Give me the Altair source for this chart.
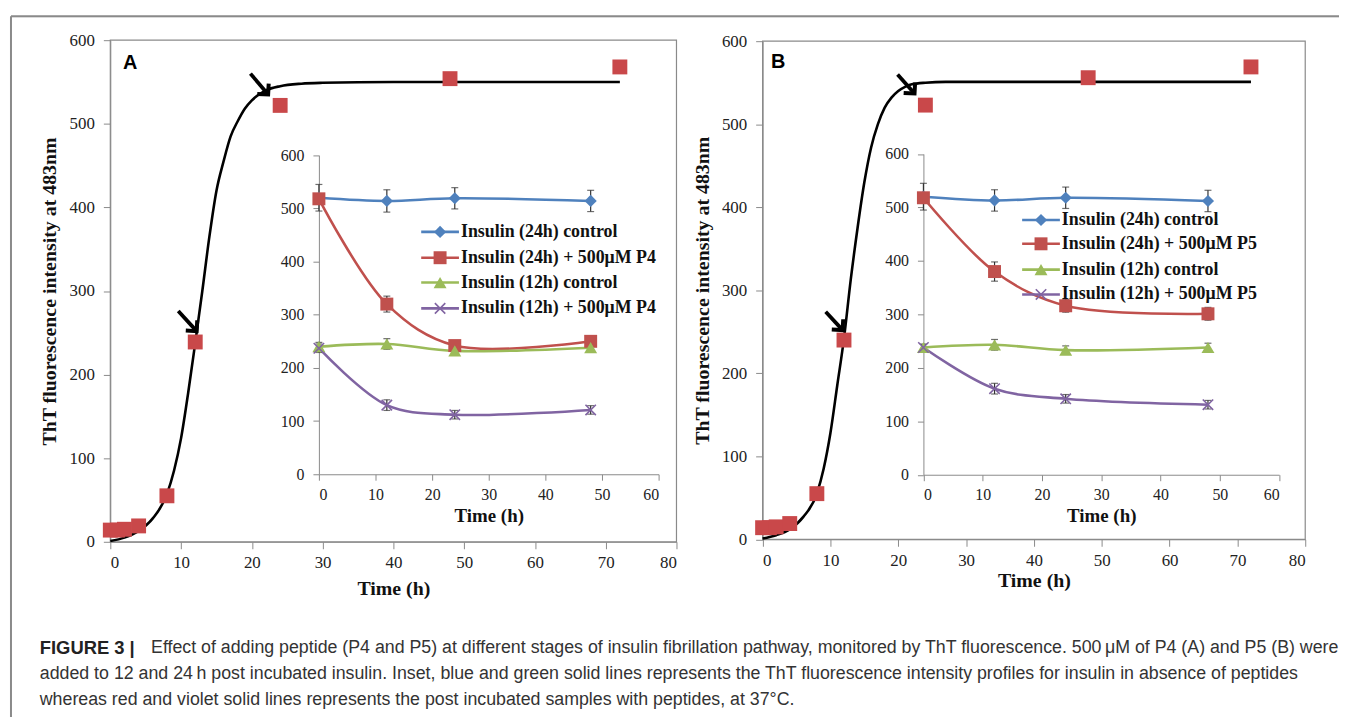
import altair as alt
import pandas as pd

# ---------------- data ----------------
# main panels: ThT kinetics (red squares) and fitted sigmoid
main_t = [0, 1, 2, 4, 8, 12, 24, 48, 72]
main_A = [14, 14, 15, 19, 55, 239, 522, 554, 568]
main_B = [14, 14, 15, 19, 55, 240, 523, 556, 569]

curve_t = [0, 2, 4, 6, 8, 9, 10, 11, 12, 13, 14, 15, 16, 17, 18, 19, 20, 21, 22, 24, 27, 30, 40, 72]
curve_A = [1, 5, 13, 28, 57, 85, 124, 178, 238, 300, 365, 420, 455, 485, 503, 518, 528, 535, 540, 545, 548, 549, 550, 550]
curve_B = [1, 5, 12, 27, 55, 85, 128, 185, 242, 313, 375, 430, 472, 500, 520, 532, 540, 545, 548, 550, 551, 551, 551, 551]

# arrows (tail -> tip), in data units of the main panels
arrow_A_tail_t = [9.6, 19.8]
arrow_A_tail_v = [276, 560]
arrow_A_tip_t = [12.2, 22.3]
arrow_A_tip_v = [252, 535]
arrow_B_tail_t = [9.3, 19.9]
arrow_B_tail_v = [274, 560]
arrow_B_tip_t = [11.8, 22.4]
arrow_B_tip_v = [252, 537]

# insets
inset_t = [0, 12, 24, 48]
labels_A = ["Insulin (24h) control", "Insulin (24h) + 500μM P4",
            "Insulin (12h) control", "Insulin (12h) + 500μM P4"]
labels_B = ["Insulin (24h) control", "Insulin (24h) + 500μM P5",
            "Insulin (12h) control", "Insulin (12h) + 500μM P5"]
vals_A = [[520, 514, 519, 514], [518, 320, 242, 250], [240, 245, 232, 238], [237, 130, 112, 121]]
errs_A = [[25, 21, 20, 20], [8, 15, 8, 8], [8, 10, 8, 8], [8, 10, 8, 8]]
vals_B = [[520, 513, 518, 512], [518, 380, 316, 301], [238, 243, 233, 238], [238, 161, 142, 131]]
errs_B = [[25, 20, 20, 20], [8, 18, 12, 12], [6, 10, 8, 8], [6, 10, 8, 8]]

series_colors = ["#4F81BD", "#C0504D", "#9BBB59", "#8064A2"]
caption_bold = "FIGURE 3 |"
caption_lines = [
    "Effect of adding peptide (P4 and P5) at different stages of insulin fibrillation pathway, monitored by ThT fluorescence. 500\u2009μM of P4 (A) and P5 (B) were",
    "added to 12 and 24\u2009h post incubated insulin. Inset, blue and green solid lines represents the ThT fluorescence intensity profiles for insulin in absence of peptides",
    "whereas red and violet solid lines represents the post incubated samples with peptides, at 37°C.",
]

# ---------------- styling ----------------
SERIF = "Liberation Serif"
W, H = 1337, 706
AX = dict(grid=False, labelFont=SERIF, labelColor="#222", domainColor="#8a8a8a",
          tickColor="#8a8a8a", titleFont=SERIF, titleFontWeight="bold", titleColor="#111")

marker_shapes = ["diamond", "square", "triangle-up", "M-1,-1L1,1M-1,1L1,-1"]
marker_filled = [True, True, True, False]
marker_sizes = [150, 170, 170, 110]


def main_panel(vals, curve, tail_t, tail_v, tip_t, tip_v, xr, yr, title_x, title_y, letter, letter_xy):
    xs = alt.Scale(domain=[0, 80], range=xr, nice=False, zero=False)
    ys = alt.Scale(domain=[0, 600], range=yr, nice=False, zero=False)
    xax = alt.Axis(orient="bottom", offset=yr[0] - H, values=list(range(0, 81, 10)),
                   title="Time (h)", titleFontSize=20, titleY=title_y, titleBaseline="middle",
                   labelFontSize=17, tickSize=7, labelPadding=6, **AX)
    yax = alt.Axis(orient="left", offset=-xr[0], values=list(range(0, 601, 100)),
                   title="ThT fluorescence intensity at 483nm", titleFontSize=20,
                   titleX=title_x, titleBaseline="middle", titleAngle=270,
                   labelFontSize=17, tickSize=7, labelPadding=9, **AX)
    frame = alt.Chart(pd.DataFrame({"x0": [0], "x1": [80], "y0": [0], "y1": [600]})).mark_rect(
        fillOpacity=0, stroke="#8a8a8a", strokeWidth=1.2).encode(
        x=alt.X("x0:Q", scale=xs, axis=xax), x2="x1:Q",
        y=alt.Y("y0:Q", scale=ys, axis=yax), y2="y1:Q")
    cdf = pd.DataFrame({"t": curve_t, "v": curve})
    line = alt.Chart(cdf).mark_line(color="black", strokeWidth=2.6, interpolate="monotone").encode(
        x=alt.X("t:Q", scale=xs, axis=xax), y=alt.Y("v:Q", scale=ys, axis=yax))
    sdf = pd.DataFrame({"t": main_t, "v": vals})
    sq = alt.Chart(sdf).mark_point(shape="square", filled=True, size=225, color="#C9484A", opacity=1).encode(
        x=alt.X("t:Q", scale=xs, axis=xax), y=alt.Y("v:Q", scale=ys, axis=yax))
    adf = pd.DataFrame({"t0": tail_t, "v0": tail_v, "t1": tip_t, "v1": tip_v})
    shaft = alt.Chart(adf).mark_rule(color="black", strokeWidth=3.8).encode(
        x=alt.X("t0:Q", scale=xs, axis=xax), x2="t1:Q",
        y=alt.Y("v0:Q", scale=ys, axis=yax), y2="v1:Q")
    head = alt.Chart(adf).mark_point(shape="M-1,-1L0,0L-1,1", filled=False, size=240, angle=48,
                                     color="black", strokeWidth=4, opacity=1, strokeJoin="miter").encode(
        x=alt.X("t1:Q", scale=xs, axis=xax), y=alt.Y("v1:Q", scale=ys, axis=yax))
    let = alt.Chart(pd.DataFrame({"s": [letter]})).mark_text(
        font="Liberation Sans", fontWeight="bold", fontSize=20, color="black").encode(
        x=alt.value(letter_xy[0]), y=alt.value(letter_xy[1]), text="s:N")
    return alt.layer(frame, line, sq, shaft, head, let)


def inset_panel(labels, vals, errs, xr, yr, title_y, leg_x, leg_rows):
    rows = []
    for name, vs, es in zip(labels, vals, errs):
        for t, v, e in zip(inset_t, vs, es):
            rows.append({"series": name, "t": t, "v": v, "lo": v - e, "hi": v + e})
    df = pd.DataFrame(rows)
    xs = alt.Scale(domain=[0, 60], range=xr, nice=False, zero=False)
    ys = alt.Scale(domain=[0, 600], range=yr, nice=False, zero=False)
    xax = alt.Axis(orient="bottom", offset=yr[0] - H, values=list(range(0, 61, 10)),
                   title="Time (h)", titleFontSize=19, titleY=title_y, titleBaseline="middle",
                   labelFontSize=16, tickSize=6, labelPadding=6, **AX)
    yax = alt.Axis(orient="left", offset=-xr[0], values=list(range(0, 601, 100)), title=None,
                   labelFontSize=16, tickSize=6, labelPadding=9, **AX)
    X = alt.X("t:Q", scale=xs, axis=xax)
    Y = alt.Y("v:Q", scale=ys, axis=yax)
    color = alt.Color("series:N", scale=alt.Scale(domain=labels, range=series_colors), legend=None)
    base = alt.Chart(df)
    lines = base.mark_line(interpolate="catmull-rom", strokeWidth=2.6).encode(X, Y, color)
    err = base.mark_errorbar(ticks={"size": 7}, color="#333", thickness=1.2).encode(
        X, alt.Y("lo:Q", scale=ys, axis=yax), alt.Y2("hi:Q"))
    pts = []
    for name, shp, fil, sz in zip(labels, marker_shapes, marker_filled, marker_sizes):
        pts.append(base.transform_filter(alt.datum.series == name).mark_point(
            shape=shp, filled=fil, size=sz, opacity=1, strokeWidth=1.6).encode(X, Y, color))
    # legend (Excel style: line with marker, bold label)
    leg = []
    x0, x1 = leg_x
    for name, col, shp, fil, sz, ry in zip(labels, series_colors, marker_shapes, marker_filled,
                                           marker_sizes, leg_rows):
        one = alt.Chart(pd.DataFrame({"s": [name]}))
        leg.append(one.mark_rule(color=col, strokeWidth=2.6).encode(
            x=alt.value(x0), x2=alt.value(x1), y=alt.value(ry)))
        leg.append(one.mark_point(shape=shp, filled=fil, size=sz, color=col, opacity=1,
                                  strokeWidth=1.6).encode(x=alt.value((x0 + x1) / 2), y=alt.value(ry)))
        leg.append(one.mark_text(font=SERIF, fontWeight="bold", fontSize=18, color="#111",
                                 align="left", baseline="middle").encode(
            x=alt.value(x1 + 2), y=alt.value(ry), text="s:N"))
    return alt.layer(lines, err, *pts, *leg)


mainA = main_panel(main_A, curve_A, arrow_A_tail_t, arrow_A_tail_v, arrow_A_tip_t, arrow_A_tip_v,
                   [100, 670], [529, 24], -61, 47, "A", (120, 47))
mainB = main_panel(main_B, curve_B, arrow_B_tail_t, arrow_B_tail_v, arrow_B_tip_t, arrow_B_tip_v,
                   [756.7, 1303], [526.5, 25], -60, 42, "B", (772.5, 46.5))
insetA = inset_panel(labels_A, vals_A, errs_A, [310, 652], [461, 139.8], 42, (413, 451), [217, 243, 268, 294])
insetB = inset_panel(labels_B, vals_B, errs_B, [918.6, 1276.7], [461.5, 138.5], 41, (1018, 1056),
                     [205, 229, 255, 280])

CAP_FONT = "Liberation Sans, Arial, sans-serif"
one_row = pd.DataFrame({"s": [caption_bold]})
cap_layers = [alt.Chart(one_row).mark_text(
    font=CAP_FONT, fontWeight="bold", fontSize=18.5, align="left", baseline="middle", color="#222").encode(
    x=alt.value(29), y=alt.value(636), text="s:N")]
cap_pos = [(141, 636), (29, 662), (29, 688)]
for line_text, (cx, cy) in zip(caption_lines, cap_pos):
    cap_layers.append(alt.Chart(pd.DataFrame({"s": [line_text]})).mark_text(
        font=CAP_FONT, fontSize=17.9, align="left", baseline="middle", color="#333").encode(
        x=alt.value(cx), y=alt.value(cy), text="s:N"))

# outer figure frame (left and top edges; right/bottom fall outside the page)
frame_rules = [
    alt.Chart(one_row).mark_rule(color="#8a8a8a", strokeWidth=2).encode(
        x=alt.value(0), y=alt.value(0), y2=alt.value(H)),
    alt.Chart(one_row).mark_rule(color="#8a8a8a", strokeWidth=2).encode(
        x=alt.value(0), x2=alt.value(W), y=alt.value(0)),
]

chart = alt.layer(*frame_rules, mainA, insetA, mainB, insetB, *cap_layers).resolve_scale(
    x="independent", y="independent", color="independent").properties(
    width=W, height=H, padding={"left": 3, "top": 6, "right": 0, "bottom": 0},
    autosize=alt.AutoSizeParams(type="none")).configure_view(stroke=None).configure(background="white")

chart.save("out.html", embed_options={"renderer": "svg", "actions": False})
